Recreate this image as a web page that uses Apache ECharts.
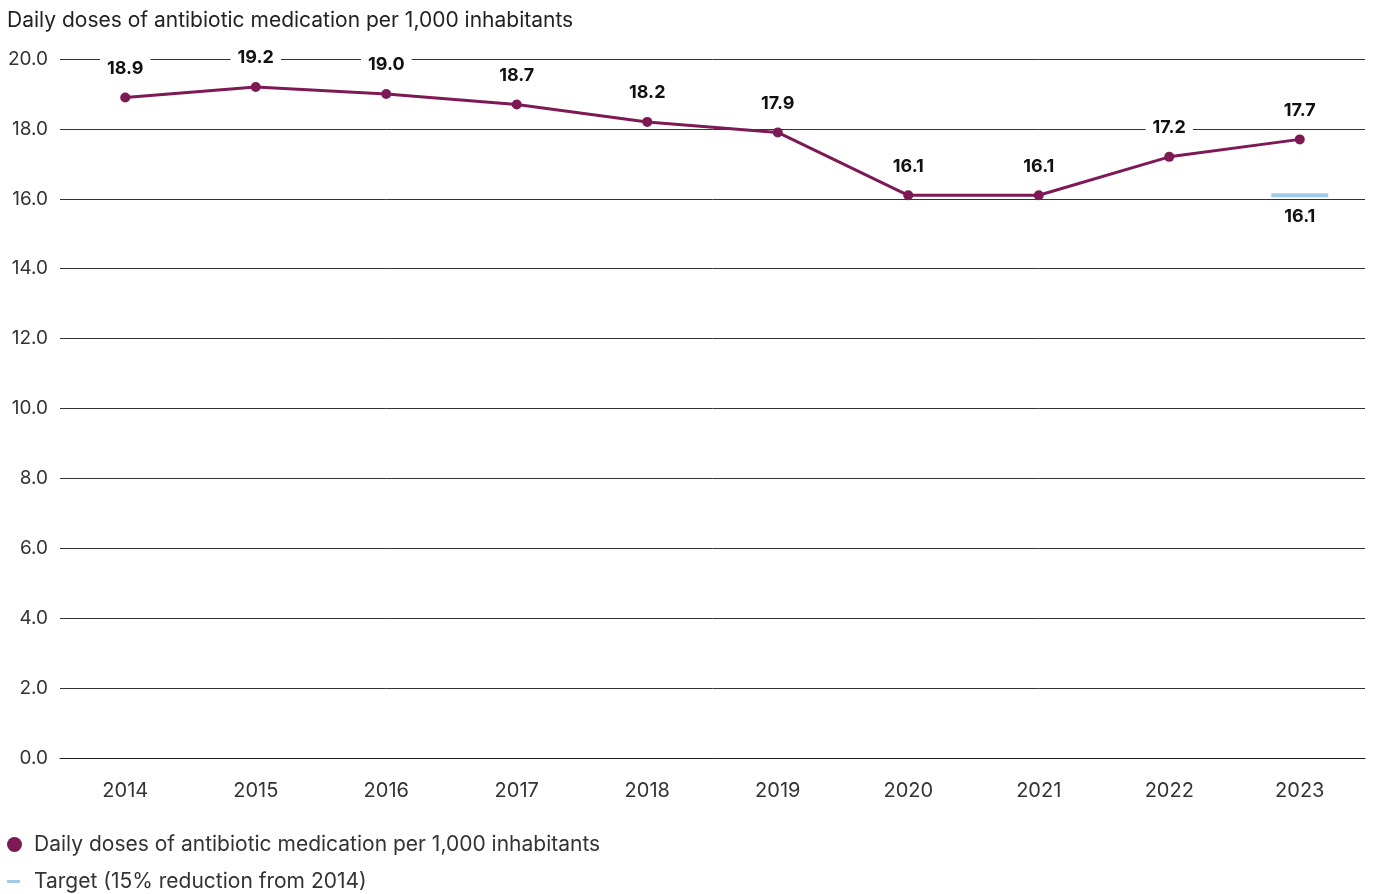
<!DOCTYPE html>
<html><head><meta charset="utf-8">
<script src="https://cdn.jsdelivr.net/npm/echarts@6/dist/echarts.min.js"></script>
<style>html,body{margin:0;padding:0;background:#fff}#c{width:1375px;height:894px}</style>
</head><body><div id="c"></div>
<script>
var years = ['2014','2015','2016','2017','2018','2019','2020','2021','2022','2023'];
var doses = [18.9, 19.2, 19.0, 18.7, 18.2, 17.9, 16.1, 16.1, 17.2, 17.7];
var target = [null, null, null, null, null, null, null, null, null, 16.1];
var yTicks = [0, 20, 2];
var seriesNames = ['Daily doses of antibiotic medication per 1,000 inhabitants', 'Target (15% reduction from 2014)'];
var FONT = 'Inter';
var chart = echarts.init(document.getElementById('c'));
chart.setOption({
  animation: false,
  textStyle: {fontFamily: FONT},
  title: {text: 'Daily doses of antibiotic medication per 1,000 inhabitants', left: 2, top: 5,
    textStyle: {fontFamily: FONT, fontSize: 21, fontWeight: 'normal', color: '#222'}},
  grid: {left: 60, right: 10, top: 59, bottom: 136, containLabel: false},
  legend: [
    {data: [seriesNames[0]], orient: 'vertical', left: 7, top: 834, padding: 0, icon: 'circle', itemWidth: 15, itemHeight: 15,
     textStyle: {fontFamily: FONT, fontSize: 21, color: '#333', padding: [0, 0, 0, 7]}},
    {data: [seriesNames[1]], orient: 'vertical', left: 7, top: 871, padding: 0, icon: 'rect', itemWidth: 13, itemHeight: 3,
     textStyle: {fontFamily: FONT, fontSize: 21, color: '#333', padding: [0, 0, 0, 9]}}
  ],
  xAxis: {type: 'category', data: years, boundaryGap: true,
    axisLine: {lineStyle: {color: '#222', width: 1}},
    axisTick: {alignWithLabel: true, length: 7, lineStyle: {color: '#333'}},
    axisLabel: {fontFamily: FONT, fontSize: 20, color: '#333', margin: 23}},
  yAxis: {type: 'value', min: yTicks[0], max: yTicks[1], interval: yTicks[2],
    axisLine: {show: false}, axisTick: {show: false},
    splitLine: {lineStyle: {color: '#333', width: 1}},
    axisLabel: {fontFamily: FONT, fontSize: 19, color: '#333', margin: 12, formatter: function(v){return v.toFixed(1);}}},
  series: [
    {name: seriesNames[0], type: 'line', data: doses, color: '#7d1a55',
     lineStyle: {width: 3, color: '#7d1a55'}, symbol: 'circle', symbolSize: 10,
     itemStyle: {color: '#7d1a55'},
     label: {show: true, position: 'top', distance: 13, fontFamily: FONT, fontSize: 18, fontWeight: 'bold', color: '#111',
       backgroundColor: '#fff', padding: [2, 7, 2, 7], formatter: function(p){return p.value.toFixed(1);}}},
    {name: seriesNames[1], type: 'scatter', data: target, color: '#9fcbe8',
     symbol: 'rect', symbolSize: [57, 4], itemStyle: {color: '#9fcbe8', opacity: 1},
     label: {show: true, position: 'bottom', distance: 10, fontFamily: FONT, fontSize: 18, fontWeight: 'bold', color: '#111',
       formatter: function(p){return p.value.toFixed(1);}}}
  ]
});
</script></body></html>
